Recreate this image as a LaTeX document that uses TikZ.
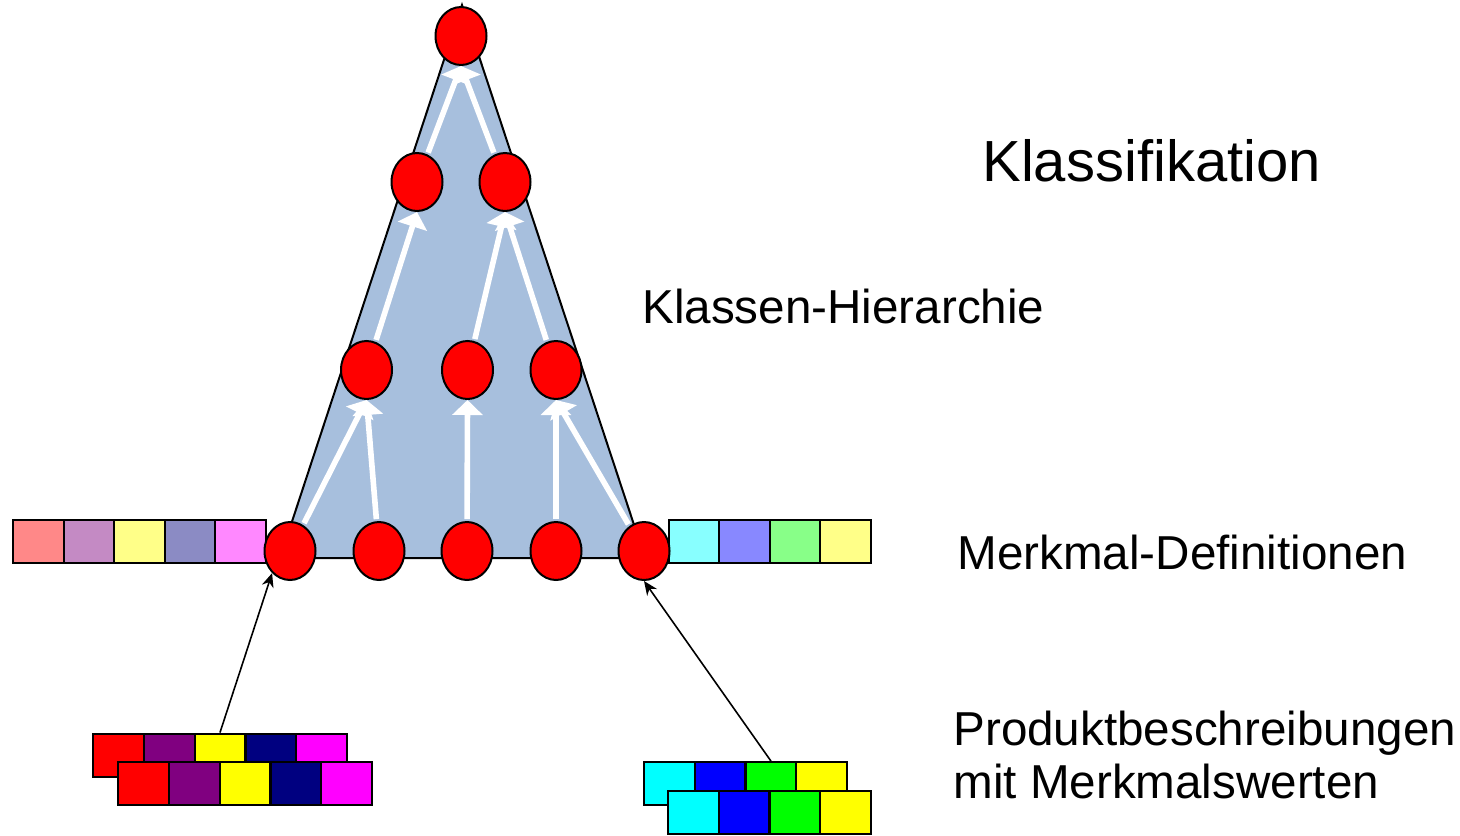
\documentclass[tikz,border=0pt]{standalone}
\usepackage{fontspec}
\setmainfont{Liberation Sans}
\usetikzlibrary{shapes.geometric,arrows.meta}
\definecolor{tri}{HTML}{A7BFDD}
\definecolor{la}{HTML}{FF8888}
\definecolor{lb}{HTML}{C48AC4}
\definecolor{lc}{HTML}{FFFF88}
\definecolor{ld}{HTML}{8B8BC4}
\definecolor{le}{HTML}{FF88FF}
\definecolor{ra}{HTML}{88FFFF}
\definecolor{rb}{HTML}{8888FF}
\definecolor{rc}{HTML}{88FF88}
\definecolor{rd}{HTML}{FFFF88}
\definecolor{pa}{HTML}{FF0000}
\definecolor{pb}{HTML}{800080}
\definecolor{pc}{HTML}{FFFF00}
\definecolor{pd}{HTML}{000080}
\definecolor{pe}{HTML}{FF00FF}
\definecolor{qa}{HTML}{00FFFF}
\definecolor{qb}{HTML}{0000FF}
\definecolor{qc}{HTML}{00FF00}
\definecolor{qd}{HTML}{FFFF00}
\begin{document}
\begin{tikzpicture}[x=0.5pt,y=-0.5pt,
  cls/.style={ellipse, draw=black, line width=1pt, fill=red, minimum width=25.5pt, minimum height=29pt, inner sep=0pt},
  warr/.style={draw=white, line width=2.8pt, -{Triangle[width=15pt,length=7.5pt]}, shorten <=1pt},
  box/.style={draw=black, line width=1pt, minimum width=25.3pt, minimum height=21.5pt, inner sep=0pt},
  barr/.style={draw=black, line width=0.8pt, -{Stealth[length=7pt,width=6pt]}},
  lbl/.style={anchor=base west, inner sep=0pt, font=\fontsize{23.8}{28}\selectfont}]
\useasboundingbox (0,0) rectangle (1460,835);
% triangle
\coordinate (apex) at (462,5);
\coordinate (bl) at (280,558);
\coordinate (br) at (645,558);
\draw[fill=tri, line width=1pt] (apex) -- (bl) -- (br) -- cycle;
% left bar
\foreach \c [count=\i from 0] in {la,lb,lc,ld,le}
  \node[box, fill=\c] (lbar\i) at ({38.3+50.6*\i},541.5) {};
% right bar
\foreach \c [count=\i from 0] in {ra,rb,rc,rd}
  \node[box, fill=\c] (rbar\i) at ({694.25+50.5*\i},541.5) {};
% bottom-left stacks
\foreach \c [count=\i from 0] in {pa,pb,pc,pd,pe}
  \node[box, fill=\c] (pl\i) at ({118.4+50.8*\i},755) {};
\foreach \c [count=\i from 0] in {pa,pb,pc,pd,pe}
  \node[box, fill=\c] (ql\i) at ({143.4+50.8*\i},783.5) {};
% bottom-right stacks
\foreach \c [count=\i from 0] in {qa,qb,qc,qd}
  \node[box, fill=\c] (pr\i) at ({669.4+50.75*\i},783.5) {};
\foreach \c [count=\i from 0] in {qa,qb,qc,qd}
  \node[box, fill=\c] (qr\i) at ({693.4+50.75*\i},812.5) {};
% class nodes
\node[cls] (top) at (461,36) {};
\node[cls] (m1) at (417,182) {};
\node[cls] (m2) at (505,182) {};
\node[cls] (k1) at (366.5,370) {};
\node[cls] (k2) at (467.5,370) {};
\node[cls] (k3) at (556,370) {};
\node[cls] (b1) at (290,551) {};
\node[cls] (b2) at (379,551) {};
\node[cls] (b3) at (467,551) {};
\node[cls] (b4) at (556,551) {};
\node[cls] (b5) at (644,551) {};
% white arrows
\draw[warr] (b1) -- (k1.south);
\draw[warr] (b2) -- (k1.south);
\draw[warr] (b3) -- (k2.south);
\draw[warr] (b4) -- (k3.south);
\draw[warr] (b5) -- (k3.south);
\draw[warr] (k1) -- (m1.south);
\draw[warr] (k2) -- (m2.south);
\draw[warr] (k3) -- (m2.south);
\draw[warr] (m1) -- (top.south);
\draw[warr] (m2) -- (top.south);
% black arrows
\draw[barr] (pl2.north) -- (b1.231);
\draw[barr] (pr2.north) -- (b5.south);
% labels
\node[lbl, font=\fontsize{29}{34}\selectfont] (t1) at (982,181) {Klassifikation};
\node[lbl] (t2) at (642,323) {Klassen-Hierarchie};
\node[lbl] (t3) at (957,569) {Merkmal-Definitionen};
\node[lbl] (t4) at (953,745) {Produktbeschreibungen};
\node[lbl] (t5) at (953,798) {mit Merkmalswerten};
\end{tikzpicture}
\end{document}
